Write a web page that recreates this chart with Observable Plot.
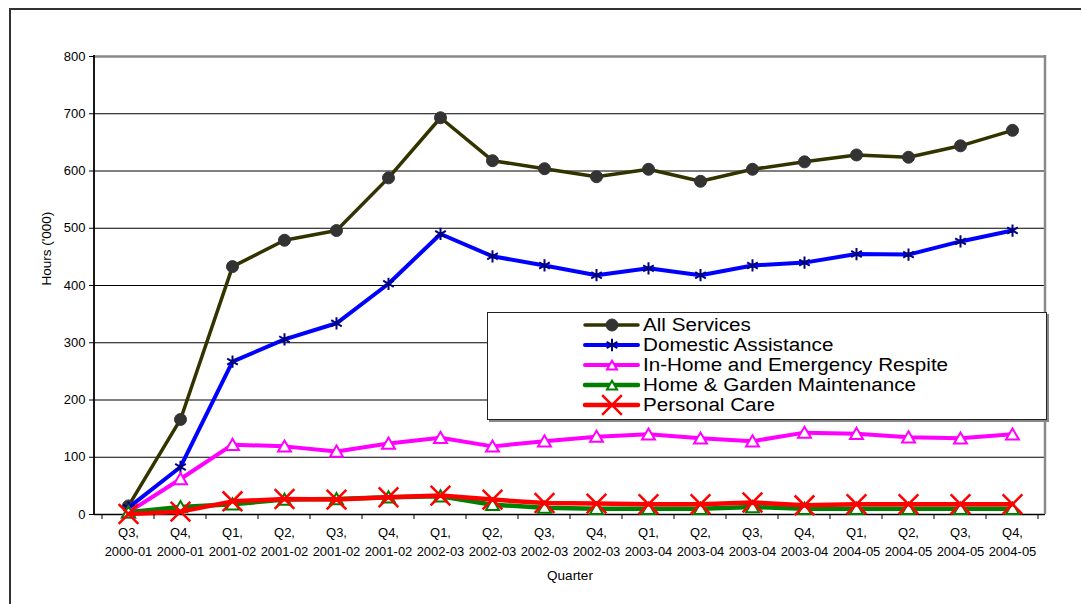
<!DOCTYPE html>
<html>
<head>
<meta charset="utf-8">
<script src="https://cdn.jsdelivr.net/npm/d3@7"></script>
<script src="https://cdn.jsdelivr.net/npm/@observablehq/plot@0.6"></script>
<style>
  html, body { margin: 0; padding: 0; background: #fff; overflow: hidden; }
  #wrap { position: relative; width: 1081px; height: 604px; overflow: hidden; font-family: "Liberation Sans", Arial, sans-serif; }
  #wrap > svg { position: absolute; left: 0; top: 0; }
  #outer { position: absolute; left: 9px; top: 8px; width: 1200px; height: 800px; border: 2px solid #333; box-sizing: border-box; pointer-events: none; }
  #legend { position: absolute; left: 487px; top: 312px; width: 558px; height: 106px; border: 1px solid #222; background: #fff; box-shadow: 2px 2px 0 #888; }
  #legend svg { display: block; }
</style>
</head>
<body>
<div id="wrap"><div id="outer"></div></div>
<script>
// ---- Data ----
const quarterLabels = ["Q3","Q4","Q1","Q2","Q3","Q4","Q1","Q2","Q3","Q4","Q1","Q2","Q3","Q4","Q1","Q2","Q3","Q4"];
const yearLabels = ["2000-01","2000-01","2001-02","2001-02","2001-02","2001-02","2002-03","2002-03","2002-03","2002-03","2003-04","2003-04","2003-04","2003-04","2004-05","2004-05","2004-05","2004-05"];
const categories = quarterLabels.map((q, i) => q + ", " + yearLabels[i]);

const seriesNames = ["All Services", "Domestic Assistance", "In-Home and Emergency Respite", "Home & Garden Maintenance", "Personal Care"];
const allServices  = [15, 166, 433, 479, 496, 588, 693, 618, 604, 590, 603, 582, 603, 616, 628, 624, 644, 671];
const domestic     = [12, 83, 267, 306, 334, 403, 490, 451, 435, 418, 430, 418, 435, 440, 455, 454, 477, 496];
const inHome       = [4, 62, 122, 119, 110, 124, 134, 119, 128, 136, 140, 133, 128, 143, 141, 135, 133, 140];
const homeGarden   = [4, 13, 18, 26, 27, 30, 32, 17, 12, 10, 10, 10, 13, 10, 10, 10, 10, 10];
const personalCare = [1, 5, 23, 27, 26, 30, 33, 26, 20, 19, 18, 18, 21, 16, 18, 18, 18, 18];
const seriesValues = [allServices, domestic, inHome, homeGarden, personalCare];

const yTicks = [0, 100, 200, 300, 400, 500, 600, 700, 800];
const gridTicks = [100, 200, 300, 400, 500, 600, 700];

// ---- Styles ----
const styles = [
  {line: "#333300", width: 3.5, symbol: "circle",   r: 6,   fill: "#333333", stroke: "#333333", sw: 1,   dy: 0},
  {line: "#0000FF", width: 4,   symbol: "asterisk", r: 5.8, fill: "none",    stroke: "#000080", sw: 2,   dy: 0},
  {line: "#FF00FF", width: 4,   symbol: "triangle", r: 4.8, fill: "#ffffff", stroke: "#FF00FF", sw: 2,   dy: 1.5},
  {line: "#008000", width: 4.5, symbol: "triangle", r: 4.8, fill: "#ffffff", stroke: "#008000", sw: 2,   dy: 1.5},
  {line: "#FF0000", width: 4.5, symbol: "times",    r: 9,   fill: "none",    stroke: "#FF0000", sw: 2.5, dy: 0}
];

const rows = seriesNames.map((name, s) => seriesValues[s].map((v, i) => ({series: name, cat: categories[i], value: v})));

const dataMarks = [];
rows.forEach((data, s) => {
  const st = styles[s];
  dataMarks.push(Plot.line(data, {x: "cat", y: "value", stroke: st.line, strokeWidth: st.width, strokeLinejoin: "round", strokeLinecap: "round"}));
  dataMarks.push(Plot.dot(data, {x: "cat", y: "value", symbol: () => st.symbol, r: st.r, dy: st.dy, fill: st.fill, stroke: st.stroke, strokeWidth: st.sw}));
});

const chart = Plot.plot({
  width: 1081,
  height: 604,
  marginLeft: 94,
  marginRight: 36,
  marginTop: 56,
  marginBottom: 90,
  style: {fontFamily: "'Liberation Sans', Arial, sans-serif", background: "transparent", color: "#000"},
  x: {type: "point", domain: categories, padding: 0.5, axis: null},
  y: {domain: [0, 800]},
  marks: [
    Plot.ruleY(gridTicks, {stroke: "#000", strokeWidth: 1}),
    Plot.ruleY([800], {stroke: "#8a8a8a", strokeWidth: 2.5}),
    Plot.ruleY([0], {stroke: "#000", strokeWidth: 1.5}),
    Plot.axisY({ticks: yTicks, tickSize: 5, tickPadding: 4, fontSize: 13, label: null, stroke: "#000"}),
    Plot.text(categories, {x: d => d, frameAnchor: "bottom", dy: 9, lineAnchor: "top", lineHeight: 1.45,
                           fontSize: 13, fill: "#000", text: d => d.replace(", ", ",\n")}),
    Plot.text(["Hours ('000)"], {frameAnchor: "left", dx: -48, rotate: -90, fontSize: 13.5, fill: "#000"}),
    Plot.text(["Quarter"], {frameAnchor: "bottom", dy: 65, fontSize: 13.5, fill: "#000"}),
    ...dataMarks
  ]
});

// structural lines from the library's scales
const xs = chart.scale("x"), ys = chart.scale("y");
const [xL, xR] = xs.range;
const yBottom = ys.apply(0), yTop = ys.apply(800);
const g = d3.select(chart).append("g");
g.append("line").attr("x1", xL).attr("x2", xL).attr("y1", yTop - 1).attr("y2", yBottom + 1).attr("stroke", "#000").attr("stroke-width", 1.8);
g.append("line").attr("x1", xR).attr("x2", xR).attr("y1", yTop - 1).attr("y2", yBottom).attr("stroke", "#8a8a8a").attr("stroke-width", 2.5);
const pos = categories.map(c => xs.apply(c));
const step = pos[1] - pos[0];
const bounds = pos.map(p => p - step / 2).concat([pos[pos.length - 1] + step / 2]);
bounds.forEach(b => g.append("line").attr("x1", b).attr("x2", b).attr("y1", yBottom).attr("y2", yBottom + 5).attr("stroke", "#000").attr("stroke-width", 1));

const wrap = document.getElementById("wrap");
wrap.insertBefore(chart, wrap.firstChild);

// ---- Legend ----
const legend = d3.select(wrap).append("div").attr("id", "legend");
const lsvg = legend.append("svg").attr("width", 558).attr("height", 106);
const symMap = {circle: d3.symbolCircle, asterisk: d3.symbolAsterisk, triangle: d3.symbolTriangle2, times: d3.symbolTimes};
const stretch = 1.16;
seriesNames.forEach((name, s) => {
  const st = styles[s];
  const cy = 12 + s * 20;
  const row = lsvg.append("g").attr("transform", `translate(0,${cy})`);
  row.append("line").attr("x1", 97).attr("x2", 150).attr("y1", 0).attr("y2", 0)
    .attr("stroke", st.line).attr("stroke-width", st.width).attr("stroke-linecap", "round");
  row.append("path").attr("transform", `translate(124,${st.dy})`)
    .attr("d", d3.symbol(symMap[st.symbol], Math.PI * st.r * st.r)())
    .attr("fill", st.fill).attr("stroke", st.stroke).attr("stroke-width", st.sw);
  row.append("text").attr("transform", `translate(155,0) scale(${stretch},1)`).attr("dy", "0.36em")
    .attr("font-size", 17.8).attr("font-family", "'Liberation Sans', Arial, sans-serif").attr("fill", "#000").text(name);
});
</script>
</body>
</html>
